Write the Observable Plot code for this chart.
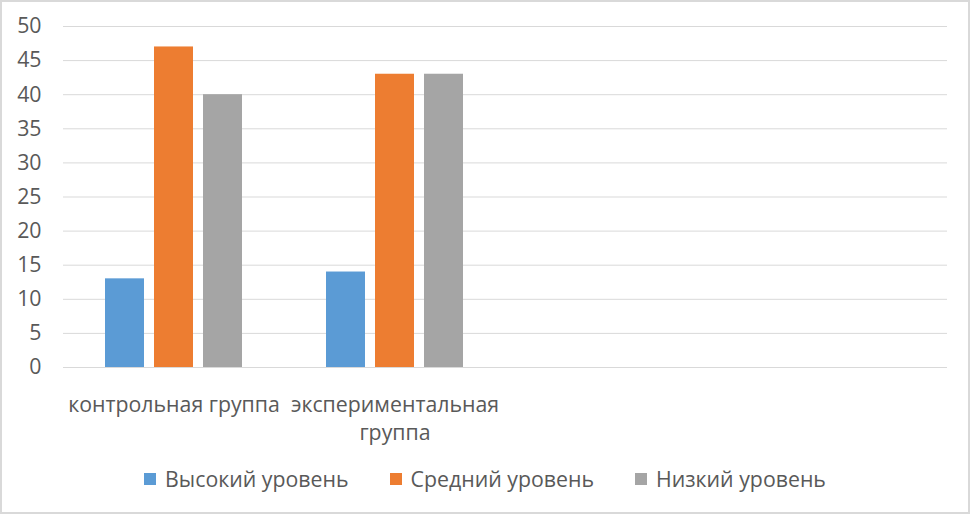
<!DOCTYPE html>
<html><head><meta charset="utf-8">
<script src="https://cdn.jsdelivr.net/npm/d3@7"></script>
<script src="https://cdn.jsdelivr.net/npm/@observablehq/plot@0.6"></script>
<style>
html,body{margin:0;padding:0;background:#fff;}
#wrap{position:relative;width:970px;height:514px;overflow:hidden;font-family:"Open Sans",sans-serif;}
#border{position:absolute;left:0;top:0;width:970px;height:514px;box-sizing:border-box;border:2px solid #d9d9d9;pointer-events:none;}
#chart{position:absolute;left:0;top:0;}
#legend{position:absolute;left:0;top:464px;width:970px;display:flex;justify-content:center;gap:41px;font-size:21.3px;color:#595959;line-height:30px;}
.item{display:flex;align-items:center;gap:9px;}
.sw{width:12px;height:12px;display:inline-block;}
</style></head>
<body><div id="wrap"><div id="chart"></div><div id="legend"></div><div id="border"></div></div>
<script>
const categories = ["контрольная группа", "экспериментальная группа", "кат3", "кат4"];
const tickLabels = ["контрольная группа", "экспериментальная\nгруппа", "", ""];
const series = ["Высокий уровень", "Средний уровень", "Низкий уровень"];
const high = [13, 14];
const mid = [47, 43];
const low = [40, 43];
const colors = ["#5B9BD5", "#ED7D31", "#A5A5A5"];
const yTicks = [0, 5, 10, 15, 20, 25, 30, 35, 40, 45, 50];

const seriesValues = [high, mid, low];
const data = [];
categories.slice(0, 2).forEach((c, i) => {
  series.forEach((s, j) => data.push({category: c, series: s, value: seriesValues[j][i]}));
});
const gridData = categories.flatMap(c => yTicks.map(t => ({category: c, tick: t})));

const chart = Plot.plot({
  width: 970, height: 455,
  marginLeft: 62, marginRight: 23, marginTop: 26, marginBottom: 88,
  style: {fontFamily: "'Open Sans', sans-serif", fontSize: "21.3px", color: "#595959", background: "transparent", overflow: "visible"},
  fx: {domain: categories, padding: 0},
  x: {domain: series, paddingInner: 0.204, paddingOuter: 0.857, axis: null},
  y: {domain: [0, 50]},
  color: {domain: series, range: colors},
  marks: [
    Plot.ruleY(gridData, {fx: "category", y: "tick", stroke: "#d9d9d9", strokeWidth: 1}),
    Plot.barY(data, {fx: "category", x: "series", y: "value", fill: "series"}),
    Plot.axisY({ticks: yTicks, tickSize: 0, tickPadding: 22, label: null}),
    Plot.axisFx({anchor: "bottom", tickSize: 0, tickPadding: 25, label: null, lineHeight: 1.3,
      tickFormat: d => tickLabels[categories.indexOf(d)]})
  ]
});
document.getElementById("chart").appendChild(chart);

const legend = document.getElementById("legend");
series.forEach((s, i) => {
  const item = document.createElement("div");
  item.className = "item";
  const sw = document.createElement("span");
  sw.className = "sw";
  sw.style.background = colors[i];
  const t = document.createElement("span");
  t.textContent = s;
  item.appendChild(sw); item.appendChild(t);
  legend.appendChild(item);
});
</script>
</body></html>
